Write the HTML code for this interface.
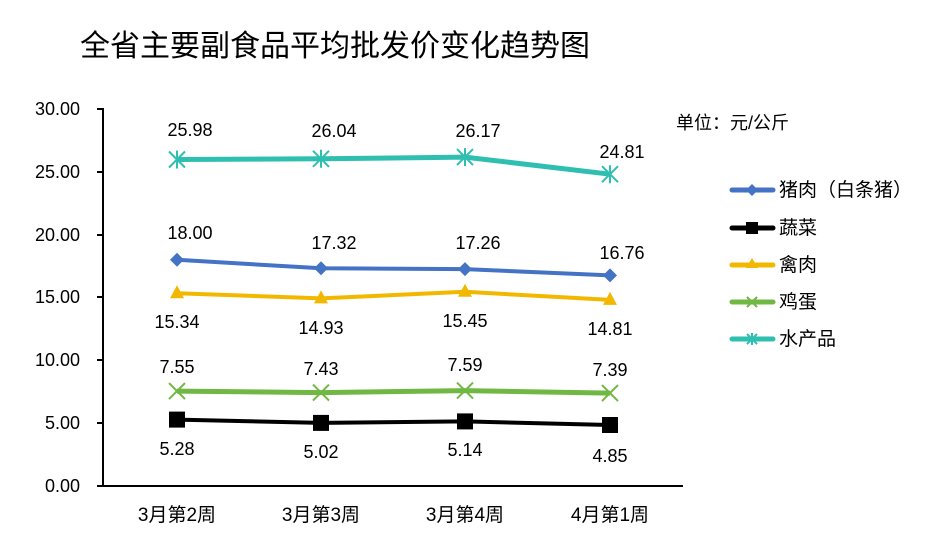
<!DOCTYPE html>
<html><head><meta charset="utf-8"><style>
body{margin:0;background:#fff;}
svg{display:block;font-family:"Liberation Sans","Noto Sans CJK SC",sans-serif;}
</style></head><body>
<svg width="948" height="544" viewBox="0 0 948 544">
<rect width="948" height="544" fill="#fff"/>
<text x="80" y="56" font-size="30" fill="#000">全省主要副食品平均批发价变化趋势图</text>
<text x="676" y="129" font-size="18" fill="#000">单位：元/公斤</text>
<g stroke="#000" stroke-width="2" fill="none">
<line x1="103" y1="108" x2="103" y2="487"/>
<line x1="102" y1="486" x2="683" y2="486"/>
<line x1="97" y1="109" x2="103" y2="109"/><line x1="97" y1="172" x2="103" y2="172"/>
<line x1="97" y1="235" x2="103" y2="235"/><line x1="97" y1="297" x2="103" y2="297"/>
<line x1="97" y1="360" x2="103" y2="360"/><line x1="97" y1="423" x2="103" y2="423"/>
<line x1="97" y1="486" x2="103" y2="486"/>
</g>
<g font-size="18" text-anchor="end" fill="#000">
<text x="80" y="115">30.00</text><text x="80" y="178">25.00</text><text x="80" y="241">20.00</text>
<text x="80" y="303">15.00</text><text x="80" y="366">10.00</text><text x="80" y="429">5.00</text><text x="80" y="492">0.00</text>
</g>
<g font-size="19" text-anchor="middle" fill="#000">
<text x="177" y="521">3月第2周</text><text x="321" y="521">3月第3周</text><text x="465" y="521">3月第4周</text><text x="610" y="521">4月第1周</text>
</g>
<polyline points="177,159.5 321,158.8 465,157.1 610,174.2" stroke="#2EBFB0" stroke-width="5" fill="none"/>
<polyline points="177,259.8 321,268.3 465,269.1 610,275.4" stroke="#4472C4" stroke-width="4" fill="none"/>
<polyline points="177,293.2 321,298.4 465,291.8 610,299.9" stroke="#F2B800" stroke-width="4" fill="none"/>
<polyline points="177,391.1 321,392.6 465,390.6 610,393.1" stroke="#70B843" stroke-width="5" fill="none"/>
<polyline points="177,419.6 321,422.9 465,421.4 610,425" stroke="#000" stroke-width="4" fill="none"/>
<g stroke="#2EBFB0" stroke-width="2">
<g transform="translate(177,159.5)"><path d="M-8,-8L8,8M-8,8L8,-8M0,-9V9"/></g>
<g transform="translate(321,158.8)"><path d="M-8,-8L8,8M-8,8L8,-8M0,-9V9"/></g>
<g transform="translate(465,157.1)"><path d="M-8,-8L8,8M-8,8L8,-8M0,-9V9"/></g>
<g transform="translate(610,174.2)"><path d="M-8,-8L8,8M-8,8L8,-8M0,-9V9"/></g>
</g>
<g fill="#4472C4">
<path d="M177,252.8l7,7l-7,7l-7,-7z"/><path d="M321,261.3l7,7l-7,7l-7,-7z"/><path d="M465,262.1l7,7l-7,7l-7,-7z"/><path d="M610,268.4l7,7l-7,7l-7,-7z"/>
</g>
<g fill="#F2B800">
<path d="M177,285.2l7,13h-14z"/><path d="M321,290.4l7,13h-14z"/><path d="M465,283.8l7,13h-14z"/><path d="M610,291.9l7,13h-14z"/>
</g>
<g stroke="#70B843" stroke-width="2">
<path d="M169,383.1l16,16M169,399.1l16,-16"/><path d="M313,384.6l16,16M313,400.6l16,-16"/><path d="M457,382.6l16,16M457,398.6l16,-16"/><path d="M602,385.1l16,16M602,401.1l16,-16"/>
</g>
<g fill="#000">
<rect x="169" y="411.6" width="16" height="16"/><rect x="313" y="414.9" width="16" height="16"/><rect x="457" y="413.4" width="16" height="16"/><rect x="602" y="417" width="16" height="16"/>
</g>
<g font-size="18" text-anchor="middle" fill="#000">
<text x="190" y="136">25.98</text><text x="334" y="137">26.04</text><text x="478" y="137">26.17</text><text x="622" y="158">24.81</text>
<text x="190" y="239">18.00</text><text x="334" y="249">17.32</text><text x="478" y="249">17.26</text><text x="622" y="259">16.76</text>
<text x="177" y="328">15.34</text><text x="321" y="334">14.93</text><text x="465" y="327">15.45</text><text x="610" y="335">14.81</text>
<text x="177" y="373">7.55</text><text x="321" y="375">7.43</text><text x="465" y="371">7.59</text><text x="610" y="376">7.39</text>
<text x="177" y="455">5.28</text><text x="321" y="458">5.02</text><text x="465" y="456">5.14</text><text x="610" y="462">4.85</text>
</g>
<g stroke-linecap="round" stroke-width="5">
<line x1="732" y1="190" x2="773" y2="190" stroke="#4472C4"/>
<line x1="732" y1="228" x2="773" y2="228" stroke="#000"/>
<line x1="732" y1="265" x2="773" y2="265" stroke="#F2B800"/>
<line x1="732" y1="302" x2="773" y2="302" stroke="#70B843"/>
<line x1="732" y1="339" x2="773" y2="339" stroke="#2EBFB0"/>
</g>
<path d="M752,184l6,6l-6,6l-6,-6z" fill="#4472C4"/>
<rect x="746" y="222" width="12" height="12" fill="#000"/>
<path d="M752,258l6,10h-12z" fill="#F2B800"/>
<path d="M747,297l10,10M747,307l10,-10" stroke="#70B843" stroke-width="2"/>
<path d="M747,334l10,10M747,344l10,-10M752,333v12" stroke="#2EBFB0" stroke-width="2"/>
<g font-size="19" fill="#000">
<text x="779" y="196">猪肉（白条猪）</text>
<text x="779" y="234">蔬菜</text>
<text x="779" y="271">禽肉</text>
<text x="779" y="308">鸡蛋</text>
<text x="779" y="345">水产品</text>
</g>
</svg>
</body></html>
